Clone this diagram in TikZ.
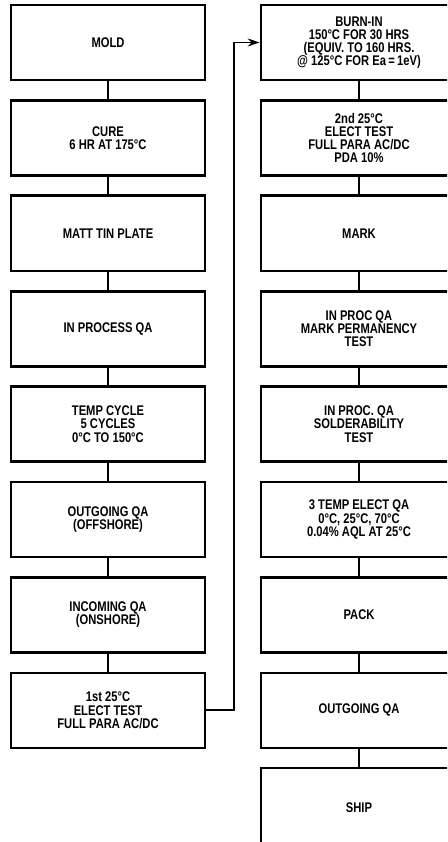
\documentclass[tikz,border=0pt]{standalone}
\usepackage{fontspec}
\setmainfont{Liberation Sans}[FakeStretch=0.8]
\usepackage{tikz}
\usetikzlibrary{positioning,arrows.meta}

\begin{document}
\begin{tikzpicture}[
    x=1pt, y=-1pt,
    stepbox/.style = {draw, line width=2.6pt, minimum width=194pt, minimum height=75pt,
                      inner sep=2pt, align=center, font=\bfseries\fontsize{14}{13.2}\selectfont},
    link/.style    = {-, line width=1.7pt},
    feed/.style    = {link, -{Stealth[length=12pt, width=8pt]}},
]
\useasboundingbox (0,0) rectangle (447,842);
\clip (0,0) rectangle (447,842);

% --- left column: molding through first electrical test ---
\node[stepbox] (mold)    at (108, 42.5)  {MOLD};
\node[stepbox] (cure)    at (108, 137.9) {CURE\\6 HR AT 175°C};
\node[stepbox] (plate)   at (108, 233.3) {MATT TIN PLATE};
\node[stepbox] (inqa)    at (108, 328.7) {IN PROCESS QA};
\node[stepbox] (cycle)   at (108, 424.1) {TEMP CYCLE\\5 CYCLES\\0°C TO 150°C};
\node[stepbox] (offqa)   at (108, 519.5) {OUTGOING QA\\(OFFSHORE)};
\node[stepbox] (onqa)    at (108, 614.9) {INCOMING QA\\(ONSHORE)};
\node[stepbox] (test1)   at (108, 710.3) {1st 25°C\\ELECT TEST\\FULL PARA AC/DC};

% --- right column: burn-in through shipping (runs off the page edge) ---
\node[stepbox, minimum width=196pt] (burnin)  at (359, 42.5)  {BURN-IN\\150°C FOR 30 HRS\\(EQUIV. TO 160 HRS.\\@ 125°C FOR Ea\,=\,1eV)};
\node[stepbox, minimum width=196pt] (test2)   at (359, 137.9) {2nd 25°C\\ELECT TEST\\FULL PARA AC/DC\\PDA 10\%};
\node[stepbox, minimum width=196pt] (mark)    at (359, 233.3) {MARK};
\node[stepbox, minimum width=196pt] (permqa)  at (359, 328.7) {IN PROC QA\\MARK PERMANENCY\\TEST};
\node[stepbox, minimum width=196pt] (solqa)   at (359, 424.1) {IN PROC. QA\\SOLDERABILITY\\TEST};
\node[stepbox, minimum width=196pt] (tempqa)  at (359, 519.5) {3 TEMP ELECT QA\\0°C, 25°C, 70°C\\0.04\% AQL AT 25°C};
\node[stepbox, minimum width=196pt] (pack)    at (359, 614.9) {PACK};
\node[stepbox, minimum width=196pt] (outqa)   at (359, 710.3) {OUTGOING QA};
\node[stepbox, minimum width=196pt, minimum height=80pt] (ship) at (359, 808) {SHIP};

% --- left column links ---
\draw[link] (mold) -- (cure);
\draw[link] (cure) -- (plate);
\draw[link] (plate) -- (inqa);
\draw[link] (inqa) -- (cycle);
\draw[link] (cycle) -- (offqa);
\draw[link] (offqa) -- (onqa);
\draw[link] (onqa) -- (test1);

% --- right column links ---
\draw[link] (burnin) -- (test2);
\draw[link] (test2) -- (mark);
\draw[link] (mark) -- (permqa);
\draw[link] (permqa) -- (solqa);
\draw[link] (solqa) -- (tempqa);
\draw[link] (tempqa) -- (pack);
\draw[link] (pack) -- (outqa);
\draw[link] (outqa) -- (ship);

% --- hand-over from first test to burn-in ---
\draw[feed] (test1.east) -- ++(28,0) |- (burnin.west);

\end{tikzpicture}
\end{document}
